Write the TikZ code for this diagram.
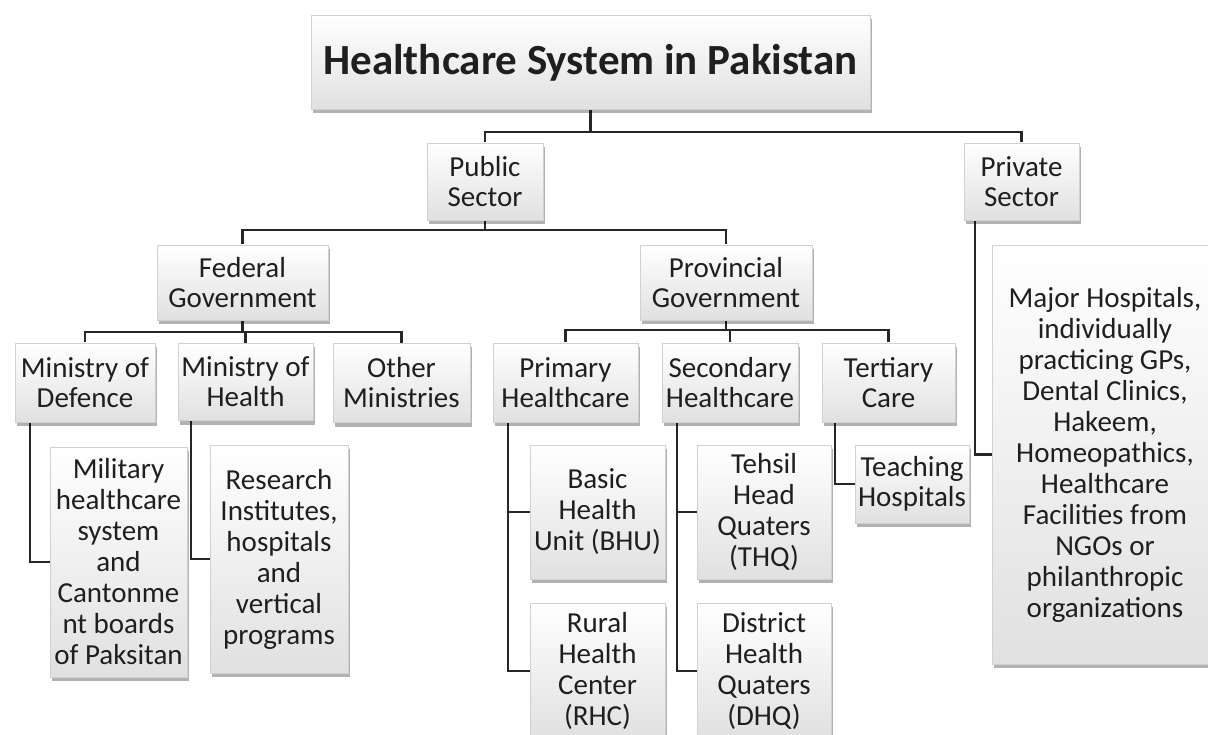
\documentclass[tikz,border=0pt]{standalone}
\usepackage{fontspec}
\setmainfont{Carlito}
\usetikzlibrary{shadows,calc}
\pgfdeclarelayer{bg}
\pgfsetlayers{bg,main}
\tikzset{
  box/.style={draw=black!18, line width=0.6pt, top color=white, bottom color=black!12,
    drop shadow={shadow xshift=1.5pt, shadow yshift=-4pt, fill=black, opacity=0.3},
    align=center, inner sep=0pt, text=black!88, font=\fontsize{29}{30}\selectfont},
  tall/.style={font=\fontsize{29}{31}\selectfont},
  sz/.style 2 args={minimum width=#1pt, minimum height=#2pt},
  conn/.style={line width=2.2pt, draw=black!85}
}
\begin{document}
\begin{tikzpicture}[x=1pt,y=-1pt]
\path[use as bounding box] (0,0) rectangle (1208,735);
\clip (0,0) rectangle (1208,735);
% level 0
\node[box, sz={559}{94}, font=\fontsize{43}{48}\selectfont\bfseries] (title) at (590.5,62.5) {Healthcare System in Pakistan};
% level 1
\node[box, sz={116}{77}] (public) at (485,181.5) {Public\\Sector};
\node[box, sz={115}{77}] (private) at (1021.5,181.5) {Private\\Sector};
% level 2
\node[box, sz={171}{75}] (federal) at (242.5,282.5) {Federal\\Government};
\node[box, sz={172}{75}] (provincial) at (726,282.5) {Provincial\\Government};
% level 3
\node[box, sz={140}{79}] (mod) at (85,382.5) {Ministry of\\Defence};
\node[box, sz={135}{77}] (moh) at (245.5,382) {Ministry of\\Health};
\node[box, sz={137}{79}] (other) at (401.5,383) {Other\\Ministries};
\node[box, sz={145}{79}] (primary) at (565.5,382.5) {Primary\\Healthcare};
\node[box, sz={136}{79}] (secondary) at (730,382.5) {Secondary\\Healthcare};
\node[box, sz={133}{79}] (tertiary) at (888.5,382.5) {Tertiary\\Care};
% level 4
\node[box, tall, sz={137}{230}] (military) at (118.5,562) {Military\\healthcare\\system\\and\\Cantonme\\nt boards\\of Paksitan};
\node[box, tall, sz={138}{228}] (research) at (279,559) {Research\\Institutes,\\hospitals\\and\\vertical\\programs};
\node[box, tall, sz={135}{134}] (bhu) at (597.5,512) {Basic\\Health\\Unit (BHU)};
\node[box, tall, sz={135}{136}] (rhc) at (597.5,671) {Rural\\Health\\Center\\(RHC)};
\node[box, tall, sz={134}{134}] (thq) at (764,512) {Tehsil\\Head\\Quaters\\(THQ)};
\node[box, tall, sz={134}{136}] (dhq) at (764,671) {District\\Health\\Quaters\\(DHQ)};
\node[box, sz={114}{78}] (teaching) at (912,484) {Teaching\\Hospitals};
\node[box, tall, sz={226}{419}] (big) at (1105,454.5) {Major Hospitals,\\individually\\practicing GPs,\\Dental Clinics,\\Hakeem,\\Homeopathics,\\Healthcare\\Facilities from\\NGOs or\\philanthropic\\organizations};
% connectors
\begin{pgfonlayer}{bg}
\fill[white] (0,0) rectangle (1208,735);
\draw[conn] (title.south) -- ++(0,22) -| (public.north);
\draw[conn] (title.south) -- ++(0,22) -| (private.north);
\draw[conn] (public.south) -- ++(0,10) -| (federal.north);
\draw[conn] (public.south) -- ++(0,10) -| (provincial.north);
\draw[conn] (federal.south) -- ++(0,12) -| (mod.north);
\draw[conn] (federal.south) -- ++(0,12) -| (moh.north);
\draw[conn] (federal.south) -- ++(0,12) -| (other.north);
\draw[conn] (provincial.south) -- ++(0,10) -| (primary.north);
\draw[conn] (provincial.south) -- ++(0,10) -| (secondary.north);
\draw[conn] (provincial.south) -- ++(0,10) -| (tertiary.north);
\draw[conn] ($(mod.south west)+(15,0)$) |- (military.west);
\draw[conn] ($(moh.south west)+(13,0)$) |- (research.west);
\draw[conn] ($(primary.south west)+(15,0)$) |- (bhu.west);
\draw[conn] ($(primary.south west)+(15,0)$) |- (rhc.west);
\draw[conn] ($(secondary.south west)+(15,0)$) |- (thq.west);
\draw[conn] ($(secondary.south west)+(15,0)$) |- (dhq.west);
\draw[conn] ($(tertiary.south west)+(13,0)$) |- (teaching.west);
\draw[conn] ($(private.south west)+(11,0)$) |- (big.west);
\end{pgfonlayer}
\end{tikzpicture}
\end{document}
